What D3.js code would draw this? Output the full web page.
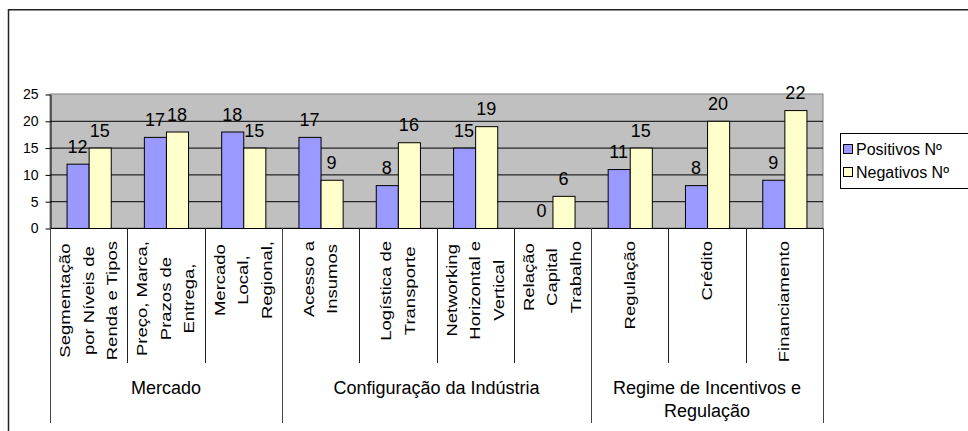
<!DOCTYPE html>
<html>
<head>
<meta charset="utf-8">
<script src="https://cdn.jsdelivr.net/npm/d3@7"></script>
<style>
    body { margin: 0; background: #fff; }
    svg { display: block; font-family: "Liberation Sans", Arial, sans-serif; }
</style>
</head>
<body>
<svg id="chart" width="968" height="431"></svg>
<script>
// categories (each label split in the lines shown on the chart)
const categories = [
    ["Segmentação", "por Níveis de", "Renda e Tipos"],
    ["Preço, Marca,", "Prazos de", "Entrega,"],
    ["Mercado", "Local,", "Regional,"],
    ["Acesso a", "Insumos"],
    ["Logística de", "Transporte"],
    ["Networking", "Horizontal e", "Vertical"],
    ["Relação", "Capital", "Trabalho"],
    ["Regulação"],
    ["Crédito"],
    ["Financiamento"]
];
const positivos = [12, 17, 18, 17, 8, 15, 0, 11, 8, 9];
const negativos = [15, 18, 15, 9, 16, 19, 6, 15, 20, 22];
const groups = [
    { lines: ["Mercado"], size: 3 },
    { lines: ["Configuração da Indústria"], size: 4 },
    { lines: ["Regime de Incentivos e", "Regulação"], size: 3 }
];
const seriesNames = ["Positivos Nº", "Negativos Nº"];
const seriesColors = ["#9999FF", "#FFFFCC"];
const yTicks = [0, 5, 10, 15, 20, 25];

const svg = d3.select("#chart");

const plot = { left: 50, right: 823, top: 94, bottom: 228 };

// outer chart border (runs off the right and bottom edges)
svg.append("rect")
    .attr("x", 8.5).attr("y", 9.75)
    .attr("width", 1000).attr("height", 500)
    .attr("fill", "none").attr("stroke", "#222").attr("stroke-width", 1.5);

const x = d3.scaleBand()
    .domain(d3.range(categories.length))
    .range([plot.left, plot.right])
    .paddingInner(0).paddingOuter(0);

const xInner = d3.scaleBand()
    .domain([0, 1])
    .range([0, x.bandwidth()])
    .paddingInner(0).paddingOuter(0.75);

const y = d3.scaleLinear().domain([0, 25]).range([plot.bottom, plot.top]);

// plot area
svg.append("rect")
    .attr("x", plot.left).attr("y", plot.top)
    .attr("width", plot.right - plot.left).attr("height", plot.bottom - plot.top)
    .attr("fill", "#C0C0C0").attr("stroke", "#808080");

svg.append("g").selectAll("line")
    .data(yTicks.filter(d => d > 0 && d < 25))
    .join("line")
        .attr("x1", plot.left).attr("x2", plot.right)
        .attr("y1", d => y(d) + 0.5).attr("y2", d => y(d) + 0.5)
        .attr("stroke", "#000");

// bars
const rows = categories.map((c, i) => [positivos[i], negativos[i]]);

const catG = svg.append("g").selectAll("g")
    .data(rows)
    .join("g")
        .attr("transform", (d, i) => `translate(${x(i)},0)`);

catG.selectAll("rect")
    .data(d => d)
    .join("rect")
        .attr("x", (d, j) => xInner(j) + 0.5)
        .attr("y", d => y(d) + 0.5)
        .attr("width", xInner.bandwidth())
        .attr("height", d => y(0) - y(d))
        .attr("fill", (d, j) => seriesColors[j])
        .attr("stroke", "#000")
        .attr("stroke-width", d => d === 0 ? 0 : 1);

catG.selectAll("text")
    .data(d => d)
    .join("text")
        .attr("x", (d, j) => xInner(j) + xInner.bandwidth() / 2)
        .attr("y", d => y(d) - 11)
        .attr("text-anchor", "middle")
        .attr("font-size", 18)
        .attr("fill", "#000")
        .text(d => d);

// y axis
const yAxis = svg.append("g")
    .attr("transform", `translate(${plot.left + 0.5},0.5)`)
    .call(d3.axisLeft(y).tickValues(yTicks).tickSize(5).tickPadding(7).tickSizeOuter(0));
yAxis.select(".domain").attr("stroke", "#000");
yAxis.selectAll("text").attr("font-size", 14).attr("font-family", "Liberation Sans, Arial, sans-serif");

// x axis line
svg.append("line")
    .attr("x1", plot.left).attr("x2", plot.right)
    .attr("y1", plot.bottom + 0.5).attr("y2", plot.bottom + 0.5)
    .attr("stroke", "#000");

// category dividers
svg.append("g").selectAll("line")
    .data(d3.range(categories.length + 1))
    .join("line")
        .attr("x1", i => Math.round(plot.left + i * x.step()) + 0.5)
        .attr("x2", i => Math.round(plot.left + i * x.step()) + 0.5)
        .attr("y1", plot.bottom).attr("y2", 363)
        .attr("stroke", "#222");

// group dividers and labels
let start = 0;
const groupBounds = [0];
groups.forEach(g => { start += g.size; groupBounds.push(start); });

svg.append("g").selectAll("line")
    .data(groupBounds)
    .join("line")
        .attr("x1", i => Math.round(plot.left + i * x.step()) + 0.5)
        .attr("x2", i => Math.round(plot.left + i * x.step()) + 0.5)
        .attr("y1", plot.bottom).attr("y2", 423)
        .attr("stroke", "#444");

groups.forEach((g, gi) => {
    const cx = plot.left + (groupBounds[gi] + groupBounds[gi + 1]) / 2 * x.step();
    const t = svg.append("text")
        .attr("text-anchor", "middle")
        .attr("font-size", 18)
        .attr("fill", "#000");
    g.lines.forEach((line, li) => {
        t.append("tspan").attr("x", cx).attr("y", 394 + li * 23).text(line);
    });
});

// rotated category labels, lines centred, block hanging from the axis
const squash = 0.82;
const lineStep = 23.5 / squash;
categories.forEach((lines, i) => {
    const cx = x(i) + x.bandwidth() / 2;
    const g = svg.append("g")
        .attr("transform", `translate(${cx},241) rotate(-90) scale(1,${squash})`);
    const texts = g.selectAll("text")
        .data(lines)
        .join("text")
            .attr("text-anchor", "middle")
            .attr("dominant-baseline", "central")
            .attr("font-size", 18.5)
            .attr("fill", "#000")
            .attr("y", (d, li) => (li - (lines.length - 1) / 2) * lineStep)
            .text(d => d);
    const maxW = d3.max(texts.nodes(), n => n.getComputedTextLength());
    texts.attr("x", -maxW / 2);
});

// legend
const legend = svg.append("g");
legend.append("rect")
    .attr("x", 840.5).attr("y", 133.5)
    .attr("width", 200).attr("height", 55)
    .attr("fill", "#fff").attr("stroke", "#000");

seriesNames.forEach((name, i) => {
    const cy = 149 + i * 23;
    legend.append("rect")
        .attr("x", 843.5).attr("y", cy - 4.5)
        .attr("width", 9).attr("height", 9)
        .attr("fill", seriesColors[i]).attr("stroke", "#000");
    legend.append("text")
        .attr("x", 856).attr("y", cy + 6)
        .attr("font-size", 16)
        .attr("fill", "#000")
        .text(name);
});
</script>
</body>
</html>
